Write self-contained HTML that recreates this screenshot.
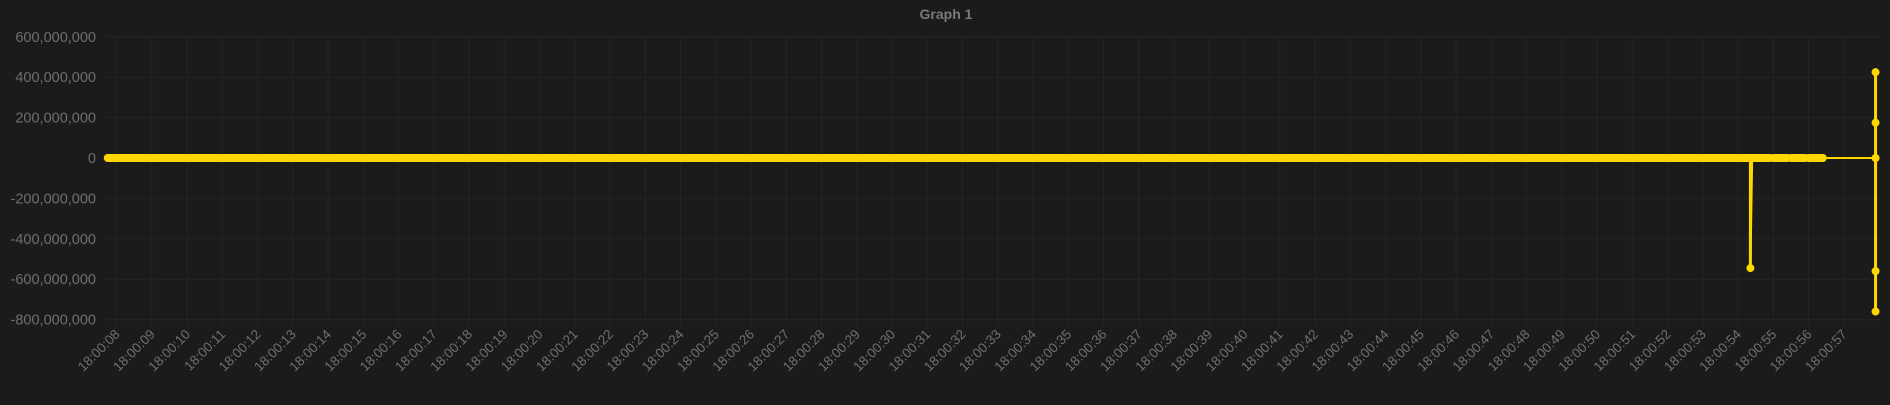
<!DOCTYPE html>
<html><head><meta charset="utf-8"><style>
body{margin:0;background:#1b1b1b;width:1890px;height:400px;overflow:hidden;font-family:"Liberation Sans",sans-serif}
</style></head><body>
<svg id="chart" width="1890" height="400" xmlns="http://www.w3.org/2000/svg">
<rect width="1890" height="400" fill="#1b1b1b"/>
<text x="946" y="19" text-anchor="middle" font-size="14" font-weight="bold" fill="#7a7a7a">Graph 1</text>
<g id="grid"></g><g id="axes"></g><g id="series"></g>
</svg>
<script>
const yTicks=[600e6,400e6,200e6,0,-200e6,-400e6,-600e6,-800e6];
const xTickSeconds=[];for(let s=8;s<=57;s++)xTickSeconds.push(s);
// zero-valued dense runs [startSec,endSec]
const zeroRuns=[[7.75,10.0],[10.05,13.0],[13.05,16.0],[16.05,19.0],[19.05,22.0],[22.05,25.0],[25.05,28.0],[28.05,31.0],[31.05,34.0],[34.05,37.0],[37.05,40.0],[40.05,43.0],[43.05,47.8],[47.85,50.0],[50.05,52.0],[52.05,54.9],[55.0,55.4],[55.5,55.9],[56.0,56.4]];
const pointTimes=[54.35,54.35,56.4,57.9,57.9,57.9,57.9,57.9];
const pointValues=[0,-545e6,0,0,425e6,175e6,-560e6,-760e6];
const X0=106,SEC0=7.7,PX=35.25;
const x=s=>X0+(s-SEC0)*PX;
const y=v=>158-v/200e6*40.4;
const NS="http://www.w3.org/2000/svg";
function mk(t,a,p){const e=document.createElementNS(NS,t);for(const k in a)e.setAttribute(k,a[k]);p.appendChild(e);return e;}
const grid=document.getElementById('grid'),axes=document.getElementById('axes'),ser=document.getElementById('series');
yTicks.forEach(v=>{const l=mk('line',{x1:X0,x2:1880,y1:y(v),y2:y(v),stroke:'#252525'},grid);

const t=mk('text',{x:96,y:y(v)+5,'text-anchor':'end','font-size':14.5,fill:'#6f6f6f'},axes);t.textContent=v.toLocaleString('en-US');
});
xTickSeconds.forEach(s=>{const l=mk('line',{x1:x(s),x2:x(s),y1:y(600e6),y2:y(-800e6)+6,stroke:'#252525'},grid);

const lab='18:00:'+String(s).padStart(2,'0');
const t=mk('text',{x:x(s)+4,y:335,'text-anchor':'end','font-size':13.5,fill:'#6f6f6f',transform:`rotate(-45 ${x(s)+4} 335)`},axes);t.textContent=lab;
});
const allT=[zeroRuns[0][0],...zeroRuns.map(r=>r[1]),54.35,54.35,54.4,56.4,57.9,57.9,57.9];
const allV=[0,...zeroRuns.map(()=>0),0,-545e6,0,0,0,425e6,-760e6];
let d='';allT.forEach((t,i)=>{d+=(i?'L':'M')+x(t)+' '+y(allV[i])+' ';});
const pl=mk('path',{d,fill:'none',stroke:'#ffd700','stroke-width':2},ser);

const sp=mk('line',{x1:x(54.35),x2:x(54.35),y1:y(0),y2:y(-545e6),stroke:'#ffd700','stroke-width':3},ser);

const sp2=mk('line',{x1:x(57.9),x2:x(57.9),y1:y(425e6),y2:y(-760e6),stroke:'#ffd700','stroke-width':3},ser);

zeroRuns.forEach(r=>{const l=mk('line',{x1:x(r[0]),x2:x(r[1]),y1:y(0),y2:y(0),stroke:'#ffd700','stroke-width':8,'stroke-linecap':'round'},ser);
});
pointTimes.forEach((t,i)=>{const c=mk('circle',{cx:x(t),cy:y(pointValues[i]),r:4,fill:'#ffd700'},ser);
});
</script>
</body></html>
